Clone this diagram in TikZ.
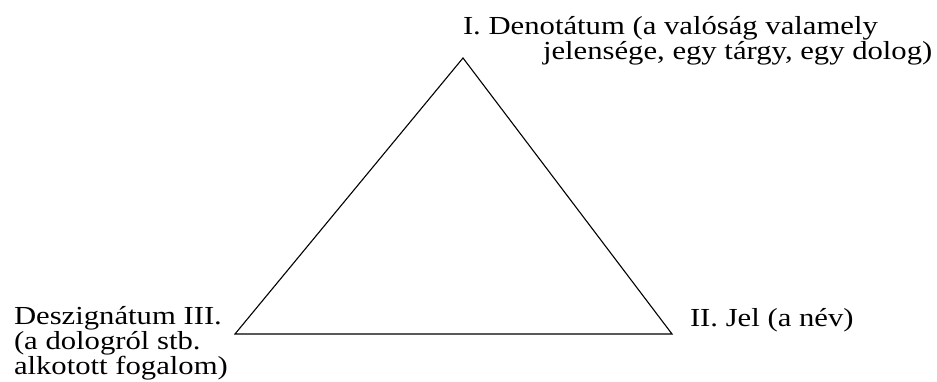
\documentclass[tikz,border=0pt]{standalone}
\usepackage{fontspec}
\setmainfont{Liberation Serif}
\newfontfamily\lblfamily[FakeStretch=1.18]{Liberation Serif}
\newcommand\lblfont{\lblfamily\fontsize{26}{25}\selectfont\lineskiplimit=-50pt\relax\lineskip=0pt\relax}
\begin{document}
\begin{tikzpicture}[x=1pt,y=-1pt,
  lbl/.style={inner sep=0pt, outer sep=0pt, anchor=base west, align=left,
    font=\lblfont},
  edge/.style={draw=black, line width=1.1pt, line join=miter}]
\useasboundingbox (0,0) rectangle (937,382);
\coordinate (A) at (463,58);
\coordinate (B) at (672,334);
\coordinate (C) at (235,334);
\draw[edge] (A) -- (B) -- (C) -- cycle;
\node[lbl] (den) at (463,60) {I. Denot\'atum (a val\'os\'ag valamely\\\hspace*{80pt}jelens\'ege, egy t\'argy, egy dolog)};
\node[lbl] (jel) at (690,326) {II. Jel (a n\'ev)};
\node[lbl] (desz) at (14,374) {Deszign\'atum III.\\(a dologr\'ol stb.\\alkotott fogalom)};
\end{tikzpicture}
\end{document}
